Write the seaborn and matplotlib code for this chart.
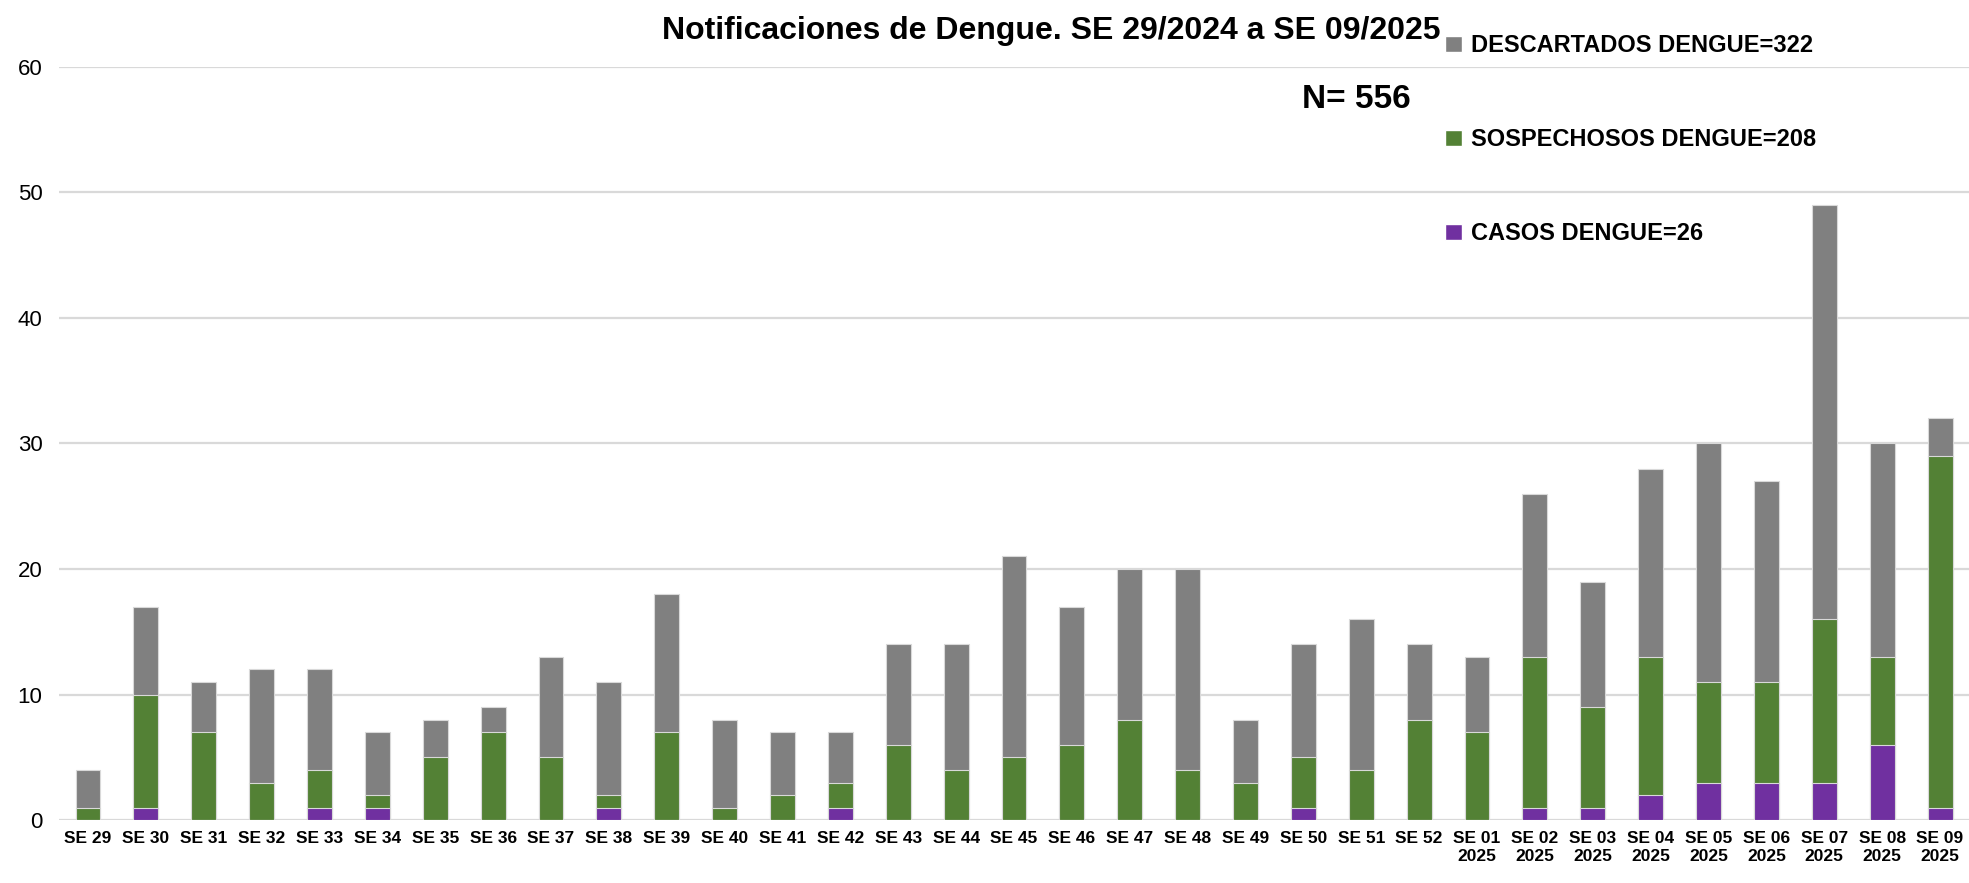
import numpy as np
import pandas as pd
import seaborn as sns
import matplotlib.pyplot as plt
from matplotlib.patches import Patch

# semanas epidemiologicas
weeks = ["SE 29", "SE 30", "SE 31", "SE 32", "SE 33", "SE 34", "SE 35", "SE 36",
         "SE 37", "SE 38", "SE 39", "SE 40", "SE 41", "SE 42", "SE 43", "SE 44",
         "SE 45", "SE 46", "SE 47", "SE 48", "SE 49", "SE 50", "SE 51", "SE 52",
         "SE 01\n2025", "SE 02\n2025", "SE 03\n2025", "SE 04\n2025", "SE 05\n2025",
         "SE 06\n2025", "SE 07\n2025", "SE 08\n2025", "SE 09\n2025"]

casos = [0, 1, 0, 0, 1, 1, 0, 0, 0, 1, 0, 0, 0, 1, 0, 0,
         0, 0, 0, 0, 0, 1, 0, 0, 0, 1, 1, 2, 3, 3, 3, 6, 1]
sospechosos = [1, 9, 7, 3, 3, 1, 5, 7, 5, 1, 7, 1, 2, 2, 6, 4,
               5, 6, 8, 4, 3, 4, 4, 8, 7, 12, 8, 11, 8, 8, 13, 7, 28]
descartados = [3, 7, 4, 9, 8, 5, 3, 2, 8, 9, 11, 7, 5, 4, 8, 10,
               16, 11, 12, 16, 5, 9, 12, 6, 6, 13, 10, 15, 19, 16, 33, 17, 3]

C_DESC = "#808080"
C_SOSP = "#538135"
C_CASOS = "#7030A0"

df = pd.DataFrame({"semana": weeks, "casos": casos,
                   "sospechosos": sospechosos, "descartados": descartados})
df["top_sosp"] = df["casos"] + df["sospechosos"]
df["total"] = df["top_sosp"] + df["descartados"]

sns.set_style("white")
plt.rcParams["font.family"] = ["Liberation Sans", "DejaVu Sans"]
plt.rcParams["text.color"] = "black"
plt.rcParams["xtick.color"] = "black"
plt.rcParams["ytick.color"] = "black"

fig = plt.figure(figsize=(19.69, 8.83), dpi=100)
ax = fig.add_axes([0.030, 0.0711, 0.970, 0.8535])
ax.set_axisbelow(True)

# barras apiladas: total (gris) -> casos+sospechosos (verde) -> casos (violeta)
bar_kw = dict(width=0.43, saturation=1, edgecolor="#d9d9d9", linewidth=0.8, ax=ax)
sns.barplot(data=df, x="semana", y="total", color=C_DESC, **bar_kw)
sns.barplot(data=df, x="semana", y="top_sosp", color=C_SOSP, **bar_kw)
sns.barplot(data=df, x="semana", y="casos", color=C_CASOS, **bar_kw)

ax.set_ylim(0, 60)
ax.set_xlim(-0.5, len(weeks) - 0.5)
ax.set_yticks(range(0, 61, 10))
ax.yaxis.grid(True, color="#d9d9d9", linewidth=1.6)
ax.set_xlabel("")
ax.set_ylabel("")
sns.despine(ax=ax, left=True, bottom=True, top=True, right=True)
ax.tick_params(axis="y", length=0, labelsize=16, pad=12)
ax.tick_params(axis="x", length=0, labelsize=12.5, pad=8)
for t in ax.get_xticklabels():
    t.set_fontweight("bold")

fig.text(0.534, 0.965, "Notificaciones de Dengue. SE 29/2024 a SE 09/2025",
         ha="center", va="center", fontsize=23, fontweight="bold")
fig.text(0.689, 0.887, "N= 556", ha="center", va="center",
         fontsize=24, fontweight="bold")

handles = [Patch(facecolor=C_DESC), Patch(facecolor=C_SOSP), Patch(facecolor=C_CASOS)]
labels = ["DESCARTADOS DENGUE=322", "SOSPECHOSOS DENGUE=208", "CASOS DENGUE=26"]
fig.legend(handles, labels, loc="upper left", bbox_to_anchor=(0.734, 0.961),
           frameon=False, prop={"size": 17, "weight": "bold"},
           handlelength=0.7, handleheight=0.7, handletextpad=0.4,
           labelspacing=3.0, borderpad=0, borderaxespad=0)

plt.savefig("out.png", dpi=100)
